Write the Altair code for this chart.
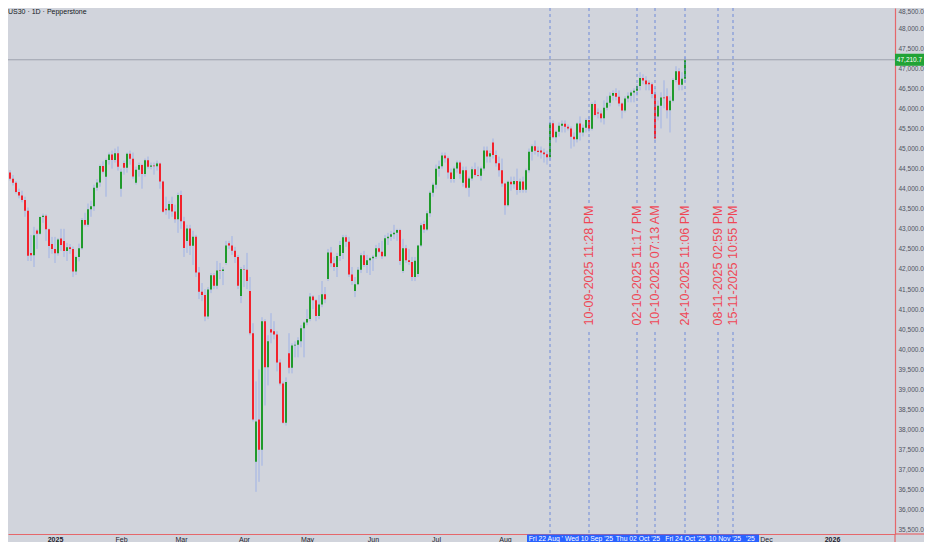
import altair as alt
import pandas as pd

# US30 CFD daily bars, 5 Dec 2024 .. 24 Oct 2025 (bar index 0..228)
opens = [
    45010, 44765, 44643, 44402, 44248, 44149, 43915, 43828, 43717, 43450,
    42400, 42342, 42960, 42880, 43297, 43326, 42992, 42620,
    42500, 42392, 42760, 42700, 42450, 42540, 42500, 41938, 42297, 42518,
    43222, 43100, 43488, 43560, 44025, 44157, 44565, 44300, 44714, 44850, 44714, 44882,
    44000, 44640, 44520, 44873, 44747, 44150, 44470, 44593, 44368, 44711,
    44546, 44580, 44556, 44627, 44176, 43500, 43461, 43621, 43433, 43239,
    43841, 43191, 42700, 43007, 42579, 42802, 41912, 41433, 41350, 40814,
    41488, 41842, 41582, 41965, 41953, 42150, 42640, 42588, 42455, 42300, 41330,
    42001, 41980, 41450, 40400, 37200, 38250, 37500, 40700, 39550, 40500,
    40450, 40370, 39669, 39150, 38170, 39900, 39540, 40093, 40114, 40200, 40527,
    40669, 40753, 41317, 41219, 40829, 41114, 41368, 41750, 42410, 42140,
    42051, 42323, 42400, 42792, 42677, 41860, 41450, 41620, 41980, 42343, 42098, 42216,
    42270, 42305, 42519, 42427, 42319, 42763, 42800, 42867, 42900, 42968,
    41950, 42515, 42215, 42172, 41800, 41877, 42582, 43121, 42982, 43386, 43900,
    44095, 44495, 44560, 44828, 44760, 44406, 44241, 44500, 44650, 44150,
    44460, 44023, 44254, 44484, 44342, 44323, 44502, 44950, 44800, 45150,
    44838, 44633, 44461,
    44131, 43589, 44174, 44112, 44193, 43969, 44176, 43975, 44459, 44922,
    45060, 44946, 44950, 44900, 44860, 44786, 45632, 45282, 45418, 45565, 45620,
    45545, 45500, 45296, 45230, 45621, 45401, 45515, 45711, 45490, 46108,
    45900, 45870, 45757, 46018, 46142, 46315, 46381, 46292, 46121, 45947,
    46247, 46316,
    46398, 46441, 46560, 46758, 46695, 46640, 46600, 46358, 45800, 46068,
    46270, 46300, 45952, 46191, 46707, 46925, 46590, 46735,
]
highs = [
    45070, 44860, 44700, 44460, 44340, 44190, 44000, 43950, 43800, 43530,
    42850, 43050, 43000, 43310, 43380, 43360, 43010, 42800,
    42800, 42770, 43000, 43000, 42650, 42620, 42560, 42330, 42630, 43270,
    43400, 43630, 43700, 44100, 44240, 44600, 44680, 44750, 44900, 44950, 45000, 45050,
    44500, 44700, 44900, 44950, 44900, 44550, 44650, 44620, 44750, 44800,
    44650, 44650, 44700, 44650, 44200, 43800, 43700, 43800, 43600, 43900,
    43950, 43300, 43100, 43100, 42950, 42850, 42050, 41650, 41500, 41550,
    41900, 41900, 42200, 42150, 42050, 42700, 42700, 42820, 42550, 42350, 42050,
    42100, 42400, 41800, 40650, 39200, 39500, 40800, 40750, 40350, 40900,
    40700, 40450, 39750, 39200, 39300, 40400, 40150, 40200, 40300, 40600, 40700,
    41000, 41400, 41350, 41250, 41350, 41700, 41550, 42500, 42550, 42300,
    42400, 42700, 42850, 42850, 42800, 42050, 41800, 42050, 42400, 42450, 42350, 42300,
    42350, 42600, 42650, 42700, 42850, 42900, 42950, 43100, 43000, 43000,
    42750, 42600, 42500, 42300, 42300, 42600, 43150, 43200, 43450, 43950, 44150,
    44600, 44700, 44900, 44900, 44800, 44500, 44550, 44700, 44700, 44550,
    44550, 44300, 44550, 44650, 44550, 44550, 45050, 45050, 44950, 45250,
    44950, 44800, 44750,
    44150, 44200, 44300, 44300, 44500, 44250, 44300, 44500, 45000, 45100,
    45200, 45050, 45050, 45000, 44950, 45750, 45700, 45450, 45650, 45700, 45700,
    45600, 45550, 45400, 45650, 45800, 45600, 45750, 45800, 46150, 46200,
    46000, 45950, 46200, 46300, 46400, 46450, 46500, 46450, 46150, 46300,
    46400, 46450,
    46500, 46600, 46900, 46850, 46800, 46700, 46650, 46500, 46200, 46400,
    46700, 46500, 46300, 46750, 47050, 47000, 46900, 47280,
]
lows = [
    44750, 44560, 44350, 44200, 44080, 43880, 43760, 43660, 43300, 42200,
    42200, 42050, 42500, 42850, 43150, 42700, 42270, 42380,
    42150, 42330, 42450, 42300, 42200, 42380, 41800, 41850, 42190, 42480,
    43060, 43050, 43300, 43450, 43950, 44050, 44380, 43800, 44600, 44500, 44650, 44450,
    43800, 44350, 44400, 44600, 44250, 44100, 44300, 44000, 44300, 44500,
    44480, 44350, 44450, 44000, 43400, 43350, 43250, 43300, 43150, 42900,
    43000, 42300, 42400, 42350, 42100, 41800, 41250, 41200, 40700, 40750,
    41400, 41500, 41500, 41750, 41600, 42100, 42500, 42350, 42150, 41500, 41150,
    41550, 41500, 40350, 38200, 36450, 36700, 37100, 38600, 39100, 40150,
    40250, 39450, 39100, 38150, 38100, 39400, 39400, 39800, 39800, 40050, 39800,
    40600, 40700, 41000, 40700, 40750, 41050, 41150, 41700, 42050, 41950,
    41800, 42200, 42250, 42550, 41800, 41600, 41300, 41600, 41900, 42050, 41900, 41850,
    41950, 42250, 42400, 42250, 42300, 42600, 42700, 42750, 42700, 42100,
    41900, 42150, 42100, 41700, 41700, 41800, 42550, 42900, 42950, 43300, 43800,
    44000, 44300, 44500, 44650, 44250, 44150, 44150, 44400, 44250, 44050,
    44000, 43800, 44200, 44300, 44300, 44200, 44450, 44650, 44650, 44750,
    44550, 44300, 44050,
    43350, 43550, 43950, 44000, 43850, 43900, 43900, 43900, 44400, 44700,
    44850, 44800, 44750, 44650, 44600, 44700, 45250, 45150, 45300, 45400, 45400,
    45450, 45000, 45050, 45150, 45200, 45300, 45400, 45400, 45450, 45800,
    45750, 45650, 45600, 45950, 46050, 46200, 46200, 46050, 45750, 45900,
    46150, 46150,
    46150, 46300, 46450, 46600, 46450, 46450, 46250, 45200, 45700, 45500,
    46000, 45750, 45400, 46150, 46650, 46450, 46450, 46650,
]
closes = [
    44765, 44643, 44402, 44248, 44149, 43915, 43828, 43717, 43450, 42327,
    42342, 42840, 42880, 43297, 43326, 42992, 42574, 42500,
    42392, 42732, 42600, 42450, 42540, 42500, 41938, 42297, 42518, 43222,
    43100, 43488, 43560, 44025, 44157, 44565, 44424, 44714, 44850, 44714, 44882, 44545,
    44421, 44520, 44873, 44747, 44303, 44470, 44593, 44368, 44711, 44546,
    44580, 44556, 44627, 44176, 43428, 43461, 43621, 43433, 43239, 43841,
    43191, 42521, 43007, 42579, 42802, 41912, 41433, 41350, 40814, 41488,
    41842, 41582, 41965, 41953, 41985, 42583, 42588, 42455, 42300, 41584, 42001,
    41989, 41700, 40400, 38250, 38200, 37500, 40700, 39550, 40200, 40420,
    40370, 39669, 39150, 38170, 39187, 39540, 40093, 40114, 40227, 40527, 40669,
    40753, 41317, 41219, 40829, 41114, 41368, 41249, 42410, 42140, 42051,
    42323, 42600, 42792, 42677, 41860, 41700, 41620, 41980, 42343, 42098, 42216, 42270,
    42305, 42519, 42427, 42319, 42763, 42800, 42867, 42900, 42968, 42198,
    42515, 42215, 42172, 41800, 42207, 42582, 43089, 42982, 43386, 43900, 44095,
    44495, 44560, 44828, 44760, 44406, 44241, 44500, 44650, 44371, 44460,
    44023, 44254, 44484, 44342, 44323, 44502, 44950, 44800, 44880, 44838,
    44633, 44461, 44131,
    43589, 44174, 44112, 44193, 43969, 44176, 43975, 44459, 44922, 45060,
    44946, 44912, 44900, 44860, 44786, 45632, 45282, 45418, 45565, 45620, 45545,
    45500, 45296, 45230, 45621, 45401, 45515, 45711, 45490, 46108, 45834,
    45870, 45757, 46018, 46142, 46315, 46381, 46292, 46121, 45947, 46247,
    46316, 46398,
    46441, 46560, 46758, 46695, 46603, 46600, 46358, 45250, 46068, 46270,
    46253, 45952, 46191, 46707, 46925, 46590, 46735, 47210.7,
]

# month labels on the time axis (bar index of the first bar of each month)
month_names = ["2025", "Feb", "Mar", "Apr", "May", "Jun", "Jul", "Aug", "Dec", "2026"]
month_pos = [18, 40, 60, 81, 102, 124, 145, 168, 255, 277]
bold_months = ["2025", "2026"]

# vertical date lines and their stamps
line_pos = [183, 196, 212, 218, 228, 239, 244]
stamp_pos = [196, 212, 218, 228, 239, 244]
stamp_text = [
    "10-09-2025 11:28 PM", "02-10-2025 11:17 PM", "10-10-2025 07:13 AM",
    "24-10-2025 11:06 PM", "08-11-2025 02:59 PM", "15-11-2025 10:55 PM",
]
# highlighted dates under the time axis, as they show through each other
axis_tag_pos = [181.6, 196, 212.3, 228.2, 241.3, 249.8]
axis_tag_text = ["Fri 22 Aug '", "Wed 10 Sep '25", "Thu 02 Oct '25", "Fri 24 Oct '25", "10 Nov '25", "'25"]

last_price = 47210.7
last_price_text = "47,210.7"
title_text = "US30 · 1D · Pepperstone"
y_ticks = list(range(35500, 49000, 500))

BG = "#d1d4dc"
UP = "#1f9a2b"
DOWN = "#f2222c"
WICK = "#9fb2e6"
DASH = "#6f8ad9"
STAMP = "#ef4756"
BORDER = "#e5676b"
FONT = "Liberation Sans"
SMALL = 7
AXIS_FS = 6.5

W, H = 887, 526          # plot area
RIGHT, BOTTOM = 29, 8    # room for the price and time axes

bars = pd.DataFrame({
    "k": range(len(closes)),
    "open": opens, "high": highs, "low": lows, "close": closes,
})

x_scale = alt.Scale(domain=[7 / 3, 7 / 3 + W / 3], nice=False, zero=False, padding=0)
y_scale = alt.Scale(domain=[35400, 48500], nice=False, zero=False, padding=0)

label_expr = " : ".join(
    f"datum.value == {p} ? '{n}'" for p, n in zip(month_pos, month_names)
) + " : ''"
bold_test = " || ".join(
    f"datum.value == {p}" for p, n in zip(month_pos, month_names) if n in bold_months
)

x_axis = alt.Axis(
    values=month_pos, labelExpr=label_expr, title=None, grid=False, ticks=False,
    domainColor=BORDER, domainWidth=1.2, labelColor="#1e222d", labelFont=FONT,
    labelFontSize=SMALL, labelPadding=1, labelFlush=False, labelOverlap=False,
    labelFontWeight={"condition": {"test": bold_test, "value": "bold"}, "value": "normal"},
)
y_axis = alt.Axis(
    orient="right", values=y_ticks, format=",.1f", title=None, grid=False,
    ticks=False, domainColor=BORDER, domainWidth=1.2, labelColor="#50535e",
    labelFont=FONT, labelFontSize=AXIS_FS, labelPadding=3, labelFlush=True,
    labelOverlap=False,
)


def X(field):
    return alt.X(field, scale=x_scale, axis=x_axis)


def Y(field):
    return alt.Y(field, scale=y_scale, axis=y_axis)


base = alt.Chart(bars)

wicks = base.mark_rule(color=WICK, strokeWidth=1, clip=True).encode(
    x=X("k:Q"), y=Y("low:Q"), y2="high:Q",
)
bodies = base.mark_bar(size=2, clip=True).encode(
    x=X("k:Q"), y=Y("open:Q"), y2="close:Q",
    color=alt.condition("datum.close >= datum.open", alt.value(UP), alt.value(DOWN)),
)

price_df = pd.DataFrame({"p": [last_price], "t": [last_price_text]})
price_line = alt.Chart(price_df).mark_rule(color="#9da2ad", strokeWidth=1).encode(
    y=Y("p:Q")
)
price_box = alt.Chart(price_df).transform_calculate(
    top="datum.p + 150", bot="datum.p - 150"
).mark_rect(color="#21a336", clip=False).encode(
    x=alt.value(W), x2=alt.value(W + RIGHT),
    y=Y("top:Q"), y2="bot:Q",
)
price_txt = alt.Chart(price_df).mark_text(
    color="white", fontSize=AXIS_FS, font=FONT, align="center", baseline="middle", clip=False
).encode(x=alt.value(W + RIGHT / 2), y=Y("p:Q"), text="t:N")

lines = alt.Chart(pd.DataFrame({"k": line_pos})).mark_rule(
    color=DASH, strokeDash=[3, 3], strokeWidth=1
).encode(x=X("k:Q"))

stamps_df = pd.DataFrame({"k": stamp_pos, "t": stamp_text})
stamp_bg = alt.Chart(stamps_df).mark_rule(color=BG, strokeWidth=12).encode(
    x=X("k:Q"), y=alt.value(197), y2=alt.value(324)
)
stamps = alt.Chart(stamps_df).mark_text(
    angle=270, color=STAMP, fontSize=12.5, font=FONT, align="center", baseline="middle"
).encode(x=X("k:Q"), y=alt.value(257.5), text="t:N")

tag_box = alt.Chart(pd.DataFrame({"a": [0]})).mark_rect(color="#2962ff", clip=False).encode(
    x=alt.value(519), x2=alt.value(751), y=alt.value(H + 0.6), y2=alt.value(H + BOTTOM)
)
tags = alt.Chart(pd.DataFrame({"k": axis_tag_pos, "t": axis_tag_text})).mark_text(
    color="white", fontSize=6.8, font=FONT, align="center", baseline="middle", clip=False
).encode(x=X("k:Q"), y=alt.value(H + BOTTOM / 2 + 0.5), text="t:N")

# red frame continues past the axes into the corner
edge_h = alt.Chart(pd.DataFrame({"a": [0]})).mark_rule(
    color=BORDER, strokeWidth=1.2, clip=False
).encode(x=alt.value(W), x2=alt.value(W + RIGHT), y=alt.value(H))
edge_v = alt.Chart(pd.DataFrame({"a": [0]})).mark_rule(
    color=BORDER, strokeWidth=1.2, clip=False
).encode(x=alt.value(W), y=alt.value(H), y2=alt.value(H + BOTTOM))

title = alt.Chart(pd.DataFrame({"t": [title_text]})).mark_text(
    align="left", baseline="middle", fontSize=SMALL, font=FONT, color="#131722"
).encode(x=alt.value(0), y=alt.value(4), text="t:N")

chart = alt.layer(
    wicks, bodies, price_line, lines, stamp_bg, stamps,
    tag_box, tags, price_box, price_txt, edge_h, edge_v, title,
).properties(
    width=W, height=H, background=BG,
    padding={"left": 0, "top": 0, "right": RIGHT, "bottom": BOTTOM},
    autosize="none",
).configure_view(stroke=None).configure_axisY(labelOverlap=False)

chart.save("out.html", embed_options={"renderer": "svg", "actions": False})
